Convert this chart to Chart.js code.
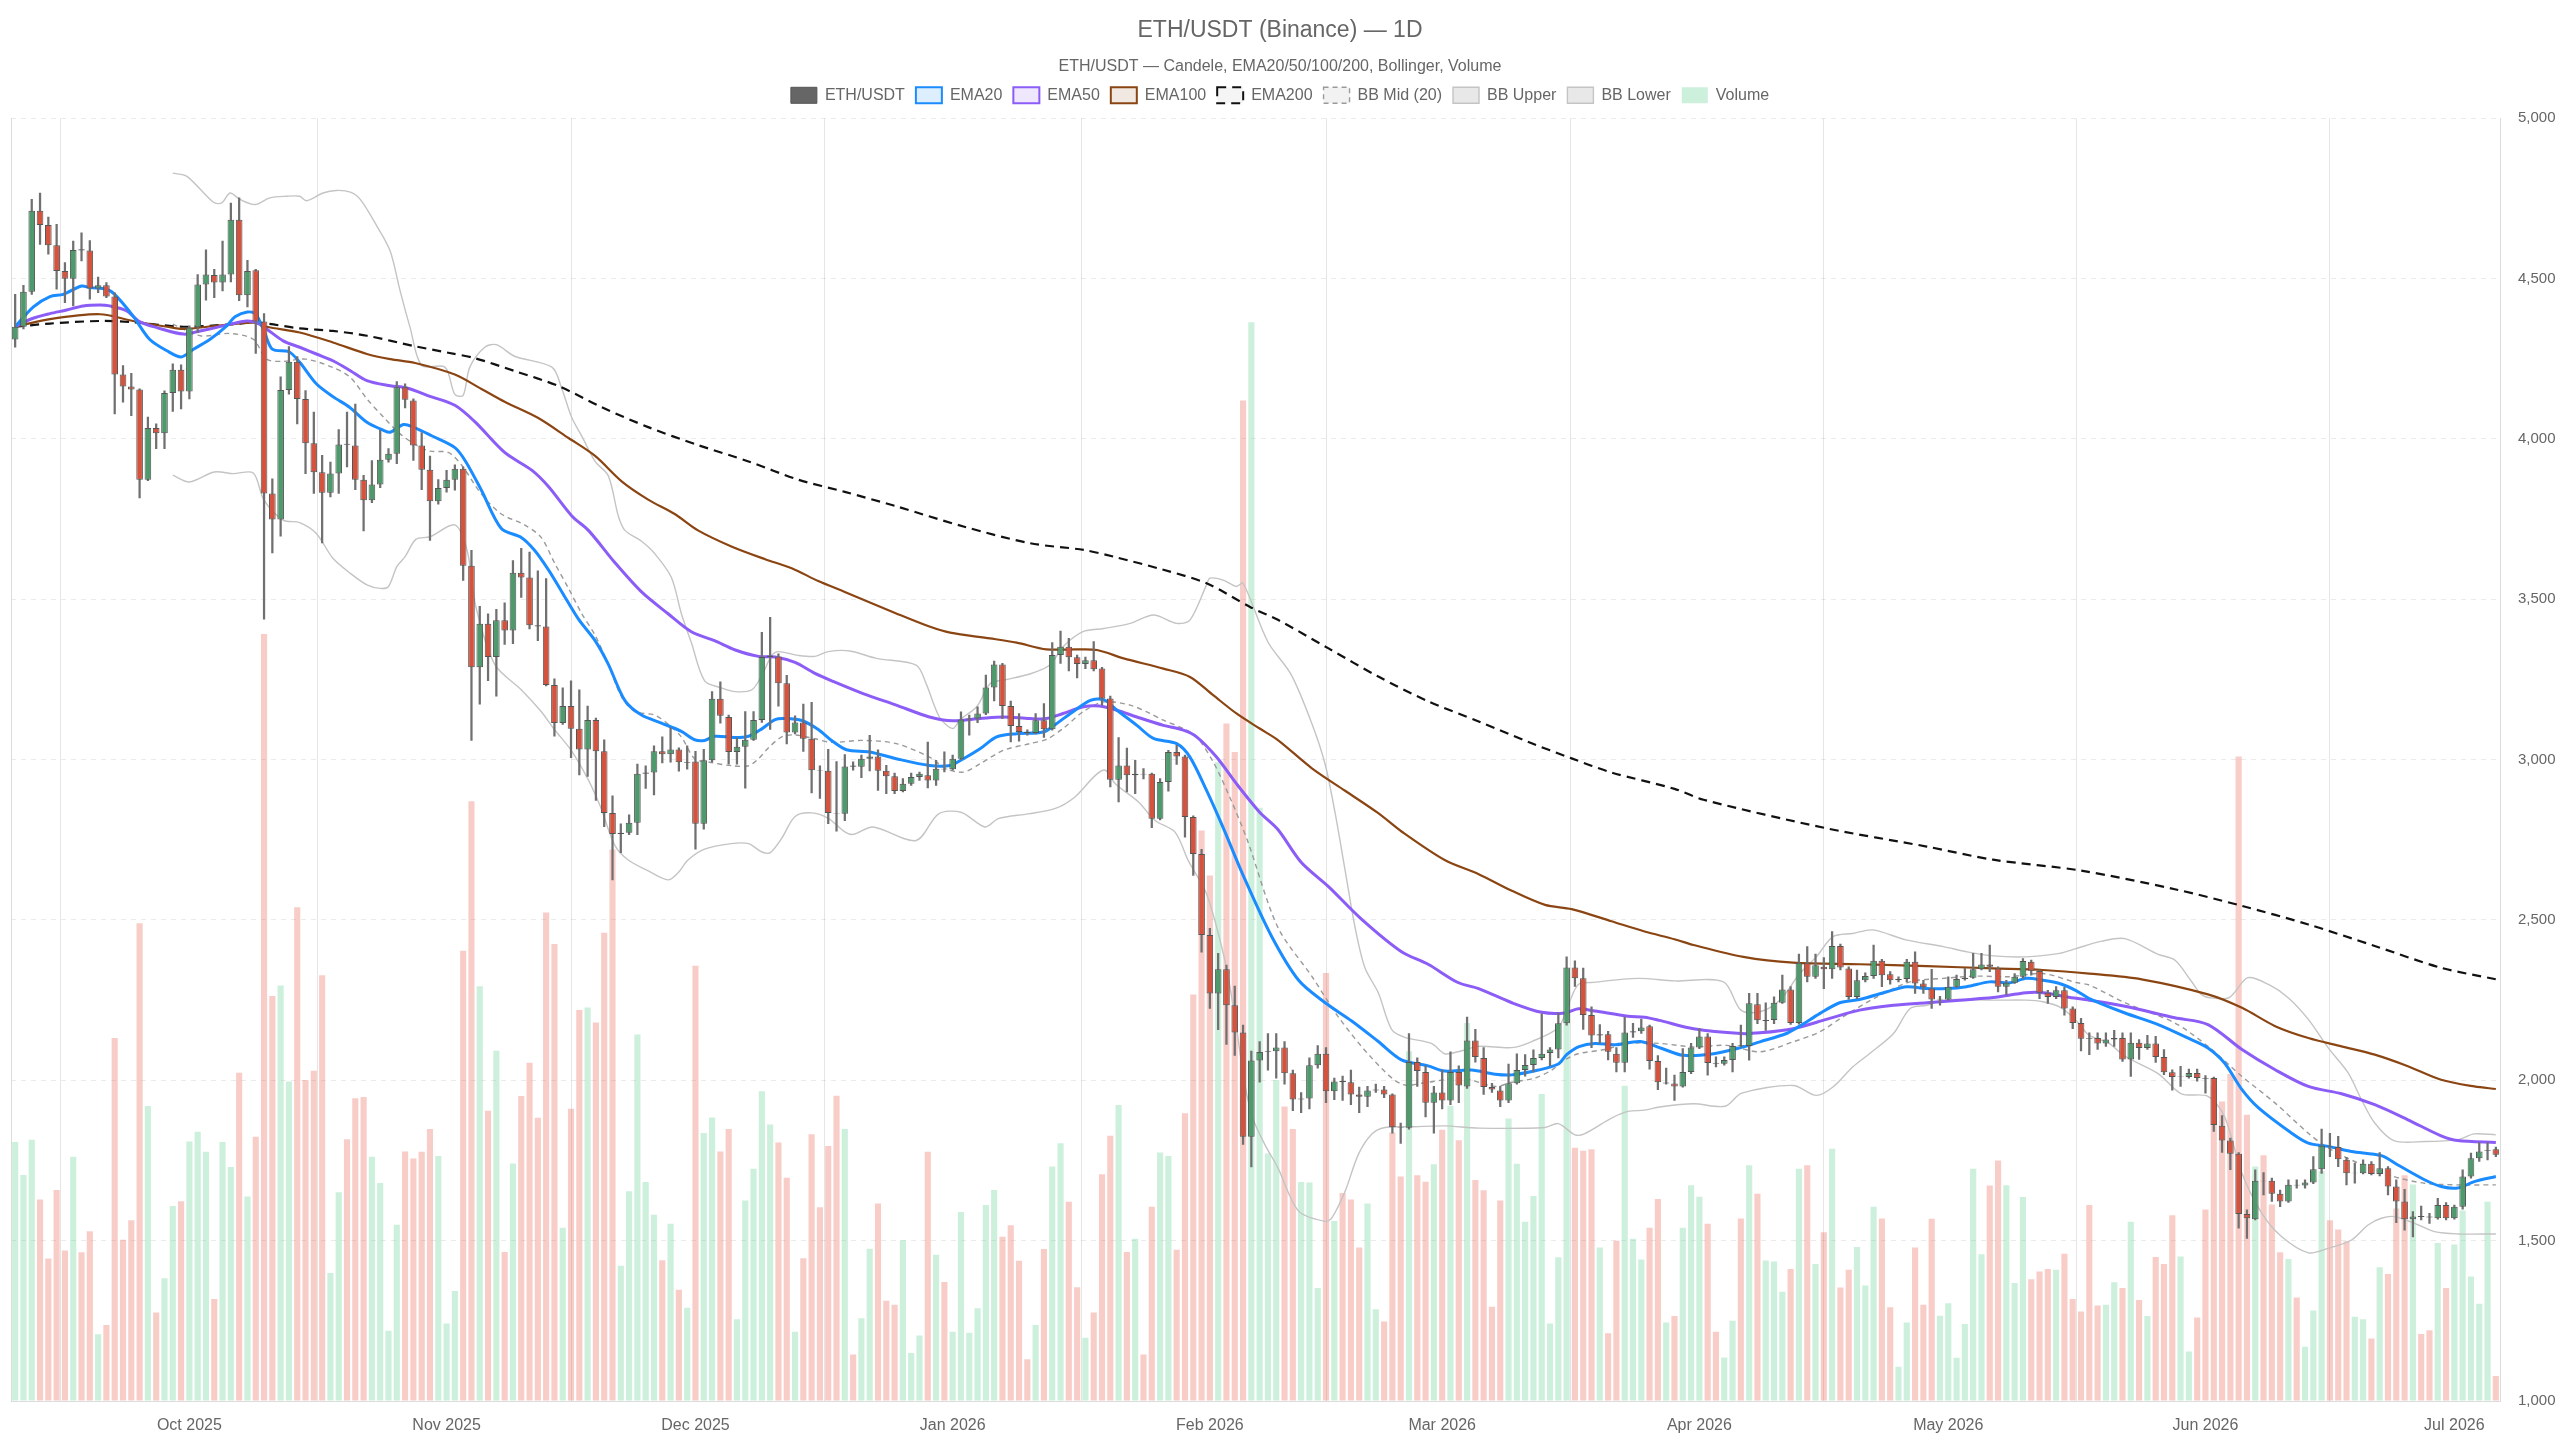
<!DOCTYPE html>
<html>
<head>
<meta charset="utf-8">
<title>ETH/USDT (Binance) — 1D</title>
<script src="https://cdn.jsdelivr.net/npm/chart.js@4.4.1/dist/chart.umd.min.js"></script>
<style>
  html, body { margin: 0; padding: 0; background: #fff; }
  #wrap { width: 2560px; height: 1440px; }
  canvas { display: block; }
</style>
</head>
<body>
<div id="wrap"><canvas id="chart" width="2560" height="1440"></canvas></div>
<script>
// ===========================
// DATA (daily candles, day 0 = 10 Sep 2025)
// ===========================

// month ticks on the x axis (day index of the 1st of each month)
const MONTH_TICK_DAYS = [21, 52, 82, 113, 144, 172, 203, 233, 264, 294];
const MONTH_LABELS = ['Oct 2025', 'Nov 2025', 'Dec 2025', 'Jan 2026', 'Feb 2026',
                      'Mar 2026', 'Apr 2026', 'May 2026', 'Jun 2026', 'Jul 2026'];

const OPEN = [
  4310, 4350, 4459, 4712, 4667, 4604, 4524, 4500, 4592, 4588,
  4469, 4479, 4444, 4201, 4164, 4154, 3873, 4034, 4018, 4143,
  4216, 4148, 4348, 4482, 4511, 4488, 4513, 4684, 4448, 4526,
  4366, 3830, 3749, 4153, 4241, 4125, 3987, 3896, 3832, 3892,
  3985, 3980, 3873, 3809, 3858, 3935, 3954, 4161, 4120, 3980,
  3904, 3806, 3847, 3873, 3907, 3605, 3288, 3424, 3320, 3435,
  3403, 3583, 3568, 3419, 3415, 3233, 3114, 3167, 3096, 3032,
  3124, 3026, 2834, 2768, 2772, 2803, 2956, 2960, 3026, 3017,
  3032, 2990, 2994, 2800, 2998, 3190, 3133, 3024, 3040, 3062,
  3124, 3320, 3322, 3238, 3085, 3116, 3065, 2967, 2965, 2834,
  2831, 2982, 2978, 3003, 3010, 2965, 2948, 2902, 2925, 2946,
  2951, 2935, 2972, 2970, 3003, 3125, 3128, 3144, 3225, 3297,
  3167, 3105, 3086, 3083, 3123, 3095, 3326, 3352, 3319, 3298,
  3310, 3284, 3191, 2937, 2982, 2951, 2956, 2956, 2816, 2930,
  3024, 3010, 2821, 2706, 2453, 2271, 2346, 2234, 2149, 1824,
  2062, 2088, 2091, 2102, 2022, 1940, 1943, 2047, 2083, 1966,
  1999, 1994, 1956, 1949, 1968, 1971, 1956, 1854, 1852, 2057,
  2026, 1930, 1962, 1937, 2026, 1981, 2124, 2070, 1979, 1968,
  1937, 1991, 2032, 2048, 2070, 2085, 2096, 2178, 2352, 2318,
  2204, 2140, 2144, 2083, 2055, 2149, 2153, 2169, 2060, 1990,
  1990, 1981, 2026, 2102, 2137, 2054, 2052, 2063, 2109, 2107,
  2237, 2185, 2188, 2242, 2283, 2179, 2367, 2323, 2354, 2346,
  2419, 2349, 2260, 2312, 2325, 2373, 2331, 2312, 2316, 2370,
  2302, 2286, 2252, 2252, 2292, 2316, 2320, 2346, 2361, 2349,
  2292, 2304, 2323, 2370, 2341, 2273, 2260, 2281, 2224, 2179,
  2132, 2132, 2115, 2127, 2132, 2065, 2117, 2101, 2115, 2073,
  2025, 2010, 2010, 2023, 2007, 2007, 1858, 1812, 1771, 1583,
  1567, 1687, 1687, 1646, 1622, 1674, 1672, 1681, 1723, 1796,
  1792, 1752, 1710, 1710, 1740, 1708, 1726, 1669, 1622, 1567,
  1577, 1575, 1570, 1611, 1570, 1606, 1700, 1757, 1780, 1785
];
const HIGH = [
  4451, 4479, 4747, 4767, 4692, 4669, 4550, 4617, 4643, 4619,
  4505, 4488, 4456, 4229, 4205, 4156, 4068, 4047, 4150, 4234,
  4231, 4353, 4513, 4590, 4529, 4617, 4736, 4752, 4557, 4529,
  4391, 3876, 4194, 4288, 4257, 4151, 4084, 3949, 3928, 4029,
  4084, 4109, 3887, 3933, 4027, 3970, 4179, 4172, 4125, 4020,
  3947, 3873, 3902, 3919, 3913, 3653, 3478, 3455, 3469, 3489,
  3621, 3659, 3647, 3589, 3565, 3252, 3224, 3246, 3218, 3167,
  3130, 3062, 2887, 2800, 2828, 2986, 2981, 3043, 3071, 3099,
  3037, 3043, 3026, 3032, 3212, 3243, 3139, 3069, 3150, 3150,
  3397, 3444, 3330, 3263, 3137, 3173, 3179, 2981, 3032, 2994,
  3016, 2993, 3014, 3076, 3031, 2982, 2958, 2941, 2958, 2961,
  3055, 2998, 3024, 3014, 3149, 3139, 3165, 3264, 3307, 3300,
  3183, 3144, 3093, 3144, 3175, 3365, 3401, 3378, 3326, 3320,
  3368, 3288, 3198, 3069, 3036, 2998, 2972, 2958, 2941, 3029,
  3045, 3014, 2825, 2720, 2474, 2396, 2359, 2294, 2172, 2091,
  2121, 2146, 2146, 2121, 2032, 1962, 2070, 2108, 2102, 2007,
  2013, 2032, 1979, 1981, 1988, 1981, 1958, 1867, 2146, 2070,
  2045, 1981, 2032, 2089, 2045, 2197, 2159, 2102, 1991, 1981,
  2051, 2083, 2080, 2095, 2207, 2102, 2210, 2385, 2373, 2350,
  2229, 2174, 2153, 2102, 2197, 2178, 2191, 2172, 2077, 2038,
  2016, 2099, 2115, 2161, 2146, 2073, 2073, 2115, 2172, 2271,
  2271, 2242, 2260, 2328, 2292, 2394, 2417, 2394, 2383, 2464,
  2425, 2354, 2344, 2335, 2422, 2377, 2339, 2323, 2377, 2401,
  2312, 2346, 2262, 2323, 2328, 2349, 2396, 2396, 2422, 2354,
  2312, 2333, 2380, 2375, 2344, 2281, 2292, 2290, 2229, 2193,
  2148, 2148, 2148, 2156, 2148, 2148, 2127, 2140, 2137, 2096,
  2033, 2044, 2035, 2035, 2015, 2010, 1890, 1820, 1775, 1596,
  1721, 1712, 1695, 1658, 1690, 1690, 1690, 1762, 1848, 1835,
  1825, 1760, 1742, 1752, 1747, 1775, 1731, 1690, 1660, 1591,
  1608, 1585, 1632, 1619, 1611, 1721, 1773, 1806, 1806, 1792
];
const LOW = [
  4286, 4343, 4451, 4607, 4576, 4467, 4425, 4415, 4555, 4436,
  4456, 4441, 4078, 4115, 4073, 3816, 3870, 3970, 3970, 4086,
  4094, 4125, 4332, 4433, 4441, 4462, 4490, 4431, 4412, 4267,
  3438, 3645, 3697, 4140, 4047, 3892, 3830, 3676, 3819, 3830,
  3913, 3842, 3713, 3801, 3848, 3928, 3923, 4097, 3933, 3842,
  3684, 3797, 3834, 3840, 3559, 3060, 3173, 3246, 3198, 3359,
  3362, 3506, 3408, 3371, 3230, 3073, 3110, 3006, 2952, 2948,
  2873, 2791, 2625, 2710, 2766, 2766, 2910, 2890, 2990, 2992,
  2964, 2970, 2721, 2783, 2992, 3114, 2986, 2986, 2911, 3060,
  3116, 3094, 3167, 3049, 3080, 3026, 2896, 2879, 2800, 2777,
  2810, 2967, 2944, 2965, 2904, 2894, 2894, 2899, 2920, 2935,
  2912, 2920, 2962, 2967, 3000, 3076, 3115, 3140, 3183, 3128,
  3055, 3058, 3076, 3080, 3069, 3092, 3300, 3277, 3255, 3284,
  3277, 3170, 2915, 2868, 2899, 2894, 2940, 2788, 2812, 2902,
  2985, 2758, 2639, 2400, 2224, 2158, 2112, 2078, 1800, 1730,
  1994, 2032, 2007, 1988, 1905, 1899, 1911, 2038, 1930, 1940,
  1937, 1924, 1899, 1918, 1962, 1946, 1835, 1803, 1848, 1981,
  1886, 1835, 1911, 1924, 1930, 1975, 2057, 1956, 1962, 1918,
  1930, 1988, 2013, 2026, 2064, 2045, 2070, 2172, 2293, 2159,
  2102, 2115, 2064, 2026, 2026, 2134, 2146, 2035, 1971, 1988,
  1937, 1979, 2021, 2099, 2016, 2042, 2047, 2026, 2104, 2063,
  2177, 2156, 2177, 2240, 2174, 2175, 2307, 2318, 2286, 2318,
  2344, 2252, 2255, 2307, 2318, 2292, 2300, 2307, 2307, 2271,
  2271, 2224, 2234, 2250, 2290, 2312, 2318, 2344, 2339, 2276,
  2266, 2302, 2318, 2328, 2255, 2240, 2255, 2203, 2161, 2092,
  2080, 2096, 2106, 2106, 2059, 2012, 2065, 2096, 2056, 2018,
  1969, 1981, 2007, 1997, 1960, 1841, 1775, 1721, 1539, 1507,
  1565, 1643, 1622, 1606, 1619, 1664, 1664, 1678, 1710, 1762,
  1731, 1674, 1679, 1708, 1705, 1702, 1643, 1556, 1533, 1512,
  1565, 1554, 1567, 1565, 1567, 1598, 1695, 1747, 1752, 1762
];
const CLOSE = [
  4350, 4459, 4712, 4667, 4604, 4524, 4500, 4589, 4588, 4469,
  4479, 4444, 4201, 4164, 4154, 3873, 4034, 4018, 4143, 4216,
  4148, 4348, 4482, 4513, 4488, 4513, 4684, 4448, 4524, 4366,
  3830, 3749, 4153, 4241, 4125, 3987, 3896, 3832, 3892, 3983,
  3982, 3873, 3809, 3858, 3935, 3954, 4161, 4122, 3980, 3904,
  3806, 3847, 3873, 3907, 3605, 3288, 3424, 3320, 3435, 3403,
  3583, 3568, 3419, 3415, 3233, 3114, 3167, 3096, 3032, 3124,
  3026, 2834, 2768, 2772, 2803, 2956, 2960, 3026, 3017, 3032,
  2992, 2993, 2800, 2998, 3190, 3137, 3024, 3040, 3062, 3124,
  3320, 3325, 3238, 3085, 3116, 3065, 2967, 2965, 2834, 2832,
  2979, 2978, 3003, 3010, 2965, 2948, 2902, 2925, 2946, 2956,
  2935, 2972, 2969, 3003, 3125, 3128, 3144, 3225, 3297, 3167,
  3105, 3086, 3083, 3123, 3095, 3326, 3352, 3319, 3298, 3310,
  3282, 3191, 2937, 2982, 2951, 2956, 2954, 2816, 2930, 3024,
  3010, 2821, 2706, 2453, 2271, 2346, 2234, 2149, 1824, 2062,
  2088, 2091, 2102, 2022, 1940, 1943, 2047, 2083, 1966, 1996,
  1994, 1956, 1949, 1968, 1971, 1956, 1854, 1852, 2057, 2029,
  1930, 1962, 1937, 2026, 1984, 2124, 2073, 1979, 1971, 1937,
  1991, 2032, 2048, 2070, 2083, 2096, 2178, 2352, 2318, 2204,
  2140, 2144, 2089, 2055, 2149, 2153, 2165, 2060, 1994, 1993,
  1981, 2026, 2102, 2137, 2054, 2052, 2063, 2107, 2106, 2240,
  2187, 2188, 2242, 2283, 2179, 2367, 2323, 2359, 2346, 2419,
  2352, 2260, 2312, 2325, 2373, 2328, 2312, 2316, 2370, 2302,
  2290, 2252, 2254, 2292, 2316, 2320, 2346, 2361, 2354, 2292,
  2304, 2323, 2372, 2342, 2273, 2260, 2281, 2224, 2179, 2130,
  2130, 2115, 2127, 2132, 2065, 2117, 2101, 2115, 2073, 2025,
  2010, 2012, 2023, 2007, 2005, 1861, 1812, 1771, 1583, 1570,
  1687, 1685, 1646, 1622, 1674, 1672, 1681, 1723, 1796, 1794,
  1754, 1710, 1712, 1740, 1708, 1726, 1669, 1622, 1567, 1575,
  1574, 1572, 1611, 1570, 1606, 1700, 1757, 1778, 1783, 1768
];
// volume, thousand ETH
const VOLUME = [
  808, 705, 815, 628, 444, 658, 469, 762, 464, 529,
  208, 237, 1132, 503, 564, 1490, 920, 276, 383, 608,
  623, 809, 840, 777, 318, 808, 730, 1024, 638, 824,
  2392, 1263, 1296, 996, 1540, 1001, 1030, 1328, 399, 651,
  816, 944, 948, 762, 680, 219, 550, 778, 756, 777,
  848, 764, 242, 343, 1404, 1870, 1293, 905, 1092, 465,
  741, 951, 1055, 883, 1523, 1425, 540, 911, 1219, 1227,
  1180, 1460, 1720, 422, 654, 1143, 683, 581, 439, 553,
  347, 291, 1357, 836, 884, 778, 848, 255, 625, 724,
  966, 862, 806, 696, 216, 445, 832, 604, 795, 952,
  848, 145, 258, 475, 616, 313, 300, 501, 150, 204,
  777, 456, 371, 216, 589, 213, 289, 611, 658, 512,
  548, 437, 130, 237, 474, 731, 804, 621, 355, 197,
  276, 707, 827, 923, 465, 506, 145, 606, 775, 764,
  472, 897, 1268, 1779, 1639, 1993, 2113, 2024, 3120, 3364,
  1850, 772, 1001, 918, 848, 683, 681, 352, 1335, 561,
  649, 628, 479, 616, 286, 248, 837, 700, 1091, 704,
  684, 738, 846, 921, 813, 1179, 689, 657, 294, 625,
  881, 740, 559, 639, 957, 242, 448, 1180, 790, 780,
  785, 479, 211, 500, 983, 506, 441, 540, 630, 245,
  265, 540, 673, 637, 553, 216, 136, 250, 569, 735,
  646, 438, 435, 341, 412, 724, 735, 427, 526, 787,
  354, 409, 480, 360, 606, 569, 292, 107, 245, 479,
  300, 568, 266, 305, 135, 240, 724, 458, 672, 750,
  673, 368, 636, 380, 404, 412, 409, 459, 318, 279,
  611, 298, 300, 370, 352, 559, 315, 265, 449, 427,
  579, 451, 154, 260, 597, 983, 934, 1020, 2010, 893,
  731, 766, 613, 464, 443, 323, 169, 282, 717, 564,
  535, 498, 263, 255, 195, 417, 396, 600, 704, 675,
  209, 221, 493, 352, 488, 594, 388, 303, 621, 78
];

// indicator lines at the given day positions
const EMA20_X = [0, 2.2, 4.2, 5.8, 8, 9, 11, 12, 14.2, 16.2, 18.3, 20, 21.5, 23.5, 25.5, 26.5, 28, 29, 30, 31,
  33, 34.3, 36.3, 38.3, 40.3, 42.4, 44.4, 45.2, 46.8, 48, 50.2, 53, 54.3, 56.2, 58.6, 61, 62.6, 64.3, 65.9, 67.9,
  69.9, 71.5, 73.5, 75.5, 77.9, 80.3, 81.9, 83.1, 84.3, 86.8, 88.4, 90, 91.6, 92.8, 94.8, 96.8, 98.4, 100.2, 103, 106.2,
  110.2, 112.7, 114.3, 116.3, 118.3, 120.7, 123.9, 125.5, 127.2, 129.6, 131.2, 132.8, 135.2, 137.2, 140, 141.6, 143.6, 145.6, 148, 151.4,
  154.7, 157.9, 161.1, 164.3, 167.1, 170.3, 172.3, 175.5, 178.4, 180.4, 183.6, 186, 187, 188.5, 190.4, 192.7, 195.9, 198.4, 201, 204.3,
  208, 210.3, 213.5, 215.1, 217.5, 219.9, 222.3, 225.6, 228, 230.4, 232.8, 235.2, 238, 240.4, 242.4, 244.4, 246.4, 248.4, 250, 254.3,
  258.3, 262.3, 264.3, 266.3, 268.4, 270.4, 274.4, 276.4, 278.8, 281.6, 285.2, 287.2, 290.4, 292.4, 294.4, 296.4, 299];
const EMA20 = [4350, 4412, 4444, 4451, 4477, 4472, 4467, 4451, 4384, 4311, 4275, 4256, 4280, 4311, 4353, 4381, 4396, 4389, 4337, 4280,
  4272, 4239, 4172, 4132, 4099, 4052, 4027, 4021, 4045, 4037, 4010, 3973, 3930, 3840, 3721, 3693, 3653, 3591, 3523, 3438,
  3371, 3297, 3184, 3139, 3114, 3088, 3062, 3060, 3073, 3069, 3073, 3096, 3125, 3128, 3122, 3094, 3060, 3031, 3024, 3003,
  2982, 2982, 3003, 3034, 3071, 3081, 3086, 3112, 3144, 3185, 3187, 3154, 3107, 3066, 3050, 3008, 2904, 2788, 2640, 2451,
  2312, 2242, 2185, 2121, 2064, 2045, 2029, 2032, 2019, 2017, 2032, 2051, 2080, 2105, 2115, 2111, 2121, 2100, 2078, 2081,
  2102, 2120, 2146, 2169, 2208, 2242, 2252, 2276, 2292, 2286, 2286, 2292, 2307, 2304, 2318, 2312, 2302, 2280, 2255, 2210,
  2174, 2127, 2101, 2054, 1971, 1914, 1835, 1804, 1794, 1778, 1765, 1736, 1690, 1669, 1664, 1684, 1700];

const EMA50_X = [0, 2, 4.2, 6.2, 8.2, 10.2, 11.4, 13.4, 15, 17, 20.3, 22.3, 24.3, 26.3, 27.9, 29.1, 30.3, 32.3, 34.3, 36.3,
  38.3, 40.4, 42.4, 45.2, 47.2, 50, 53, 55.4, 59, 62.3, 64.3, 67.1, 69.1, 72.3, 75.5, 78.7, 81.5, 84.3, 86.8, 89.6,
  91.6, 94, 96.4, 98.5, 102.2, 106.2, 110.2, 113, 116.3, 119.1, 122.3, 124.3, 126.3, 128.8, 130.7, 132.8, 135.2, 138.4, 140.8, 142.4,
  144.8, 147.2, 150, 152.2, 155, 158.3, 162.3, 167.1, 170.3, 173.9, 176.4, 180.4, 184, 186.8, 188.4, 190.4, 194.4, 196.4, 198.2, 202.3,
  208, 210.3, 214.3, 218.3, 222.3, 226.4, 230.4, 234.4, 238.4, 242.4, 244.4, 247.3, 250, 254.3, 260.3, 264.3, 268.4, 272.4, 276.4, 280.4,
  284.4, 288.4, 292.4, 294.4, 299];
const EMA50 = [4350, 4375, 4391, 4402, 4415, 4418, 4415, 4400, 4366, 4348, 4327, 4337, 4348, 4360, 4368, 4363, 4343, 4306, 4286, 4265,
  4244, 4213, 4182, 4166, 4159, 4133, 4105, 4054, 3958, 3902, 3851, 3760, 3715, 3614, 3523, 3455, 3399, 3371, 3342, 3322,
  3320, 3303, 3269, 3245, 3206, 3170, 3133, 3121, 3128, 3133, 3128, 3128, 3144, 3165, 3167, 3154, 3133, 3107, 3092, 3071,
  3008, 2925, 2836, 2782, 2680, 2604, 2502, 2401, 2362, 2305, 2286, 2242, 2212, 2210, 2223, 2216, 2200, 2197, 2187, 2161,
  2146, 2148, 2161, 2190, 2219, 2234, 2242, 2250, 2258, 2273, 2273, 2260, 2250, 2231, 2195, 2174, 2096, 2033, 1981, 1958,
  1924, 1877, 1827, 1812, 1806];

const EMA100_X = [0, 4.2, 10.2, 14.2, 18.3, 20.3, 24.3, 28.7, 30.3, 34.3, 38.3, 42.4, 45.2, 48.2, 53, 56.2, 59, 63, 66.7, 69.9,
  73.1, 76.3, 79.5, 82.3, 86.4, 90.4, 93.6, 96.8, 100, 106.2, 110.2, 112.7, 117.5, 120.7, 124.3, 127.9, 130.4, 133.6, 138.4, 141.6,
  144.4, 147.2, 150, 152.2, 156.3, 160.3, 164.3, 167.1, 172.3, 176.4, 180.4, 184.4, 187.6, 192.4, 196.4, 200, 202.3, 208.3, 214.3, 222.3,
  230.4, 238.4, 244.4, 250, 256.3, 264.3, 268.4, 272.4, 276.4, 280.4, 284.4, 288.4, 292.4, 296.4, 299];
const EMA100 = [4350, 4374, 4389, 4368, 4350, 4343, 4353, 4363, 4350, 4332, 4301, 4265, 4249, 4237, 4201, 4156, 4116, 4066, 4003, 3947,
  3868, 3811, 3766, 3715, 3664, 3625, 3597, 3557, 3523, 3456, 3415, 3396, 3378, 3365, 3344, 3344, 3342, 3316, 3284, 3258,
  3201, 3144, 3097, 3061, 2973, 2903, 2833, 2776, 2687, 2643, 2591, 2547, 2534, 2496, 2464, 2440, 2422, 2385, 2367, 2362,
  2356, 2349, 2344, 2333, 2315, 2268, 2226, 2169, 2132, 2106, 2080, 2044, 2002, 1981, 1973];

const EMA200_X = [0, 4.2, 10.2, 14.2, 20.3, 26.3, 29.1, 34.3, 38.3, 42.4, 48.2, 52.2, 55.4, 60.2, 65.5, 70.7, 76.3, 82.3, 88.4, 94.4,
  100, 106.2, 114.3, 122.3, 128.8, 132.4, 138.4, 143.6, 149, 152.2, 158.3, 164.3, 170.3, 176.4, 182.4, 187.6, 192.4, 200, 203.5, 218.3,
  230.4, 238.4, 249, 260.3, 268.4, 276.4, 284.4, 292.4, 299];
const EMA200 = [4350, 4360, 4368, 4364, 4350, 4358, 4363, 4345, 4337, 4322, 4289, 4269, 4252, 4212, 4165, 4099, 4037, 3981, 3930, 3873,
  3835, 3790, 3727, 3675, 3654, 3633, 3592, 3550, 3474, 3436, 3347, 3259, 3182, 3119, 3055, 3004, 2960, 2909, 2875, 2786,
  2729, 2688, 2654, 2596, 2544, 2486, 2419, 2351, 2315];

const BB_MID_X = [19, 22.3, 25.9, 28.7, 30.3, 32.3, 35, 38.3, 40.4, 42.4, 44.4, 46.4, 48.4, 50, 52.2, 53.8, 56.2, 58.6, 61.4, 63.4,
  65, 66.7, 68.3, 69.9, 71.5, 73.1, 74.7, 77.1, 78.7, 80.3, 81.9, 83.7, 86.4, 88.4, 89.6, 90.8, 92.4, 94, 96.4, 98.4,
  102.2, 106.2, 110.2, 112.2, 114.3, 116.3, 119.1, 122.3, 124.3, 126.3, 128.7, 131.2, 134.4, 136.8, 138.4, 140.8, 142.4, 144.4, 146.4, 148.5,
  152.2, 156.3, 159.5, 163.5, 167.1, 170.3, 174.3, 178.4, 180.4, 183.2, 185.2, 186.8, 188.4, 191.6, 194.4, 198.2, 202.3, 206.3, 210.3, 214.3,
  217.5, 220.3, 224.4, 228.4, 232.4, 236.4, 240.4, 244.4, 248.4, 250, 254.3, 260.3, 264.3, 268.4, 272.4, 276.4, 278.8, 282.4, 286.4, 290.4,
  294.4, 299];
const BB_MID = [4358, 4322, 4329, 4311, 4249, 4242, 4249, 4223, 4192, 4125, 4068, 4016, 3980, 3962, 3958, 3919, 3828, 3766, 3732, 3693,
  3614, 3534, 3455, 3388, 3297, 3195, 3150, 3139, 3111, 3071, 3003, 2992, 2981, 2981, 3003, 3037, 3071, 3077, 3065, 3054,
  3060, 3050, 3008, 2972, 2961, 2987, 3029, 3050, 3063, 3097, 3149, 3180, 3170, 3144, 3123, 3097, 3071, 2993, 2883, 2750,
  2477, 2324, 2197, 2070, 1988, 1994, 2007, 1981, 1994, 2007, 2032, 2064, 2083, 2096, 2115, 2115, 2104, 2109, 2089, 2120,
  2151, 2198, 2260, 2307, 2318, 2325, 2323, 2333, 2305, 2297, 2242, 2179, 2106, 2012, 1929, 1835, 1789, 1742, 1702, 1679,
  1674, 1674];

const BB_UP_X = [19, 20.7, 23.9, 24.9, 25.9, 27.1, 28.9, 30.7, 32.7, 34.3, 35.1, 37.1, 38.7, 40.4, 41.6, 43.6, 45.2, 46.4, 47.6, 49,
  51.8, 53, 54, 54.8, 56.6, 58, 60.2, 64.7, 65.9, 67.1, 68.3, 69.9, 71.5, 72.7, 73.5, 75.5, 77.1, 79.1, 80.3, 81.5,
  83.1, 85.1, 86.8, 88.8, 90, 91.2, 92, 94.4, 96.4, 98, 100.6, 103.8, 108.6, 109.8, 111.4, 113, 113.9, 115.9, 117.5, 119.1,
  122.3, 124.7, 126.3, 128.7, 131.2, 134.4, 137.2, 140, 141.6, 143.6, 144, 145.6, 147.2, 148, 151, 153.8, 156.3, 157.9, 159.1, 160.3,
  161.5, 162.7, 164.3, 165.9, 167.5, 170.7, 172.3, 173.9, 176.4, 180.4, 182.8, 186, 187.2, 188.4, 190, 195.6, 200, 205.9, 208, 210.3,
  212.7, 215.1, 217.1, 219.1, 221.5, 223.9, 227.9, 232.4, 235.2, 238.4, 242.4, 246.4, 248.3, 251.5, 254.3, 258.3, 260.3, 262.3, 263.5, 264.7,
  266.9, 269.1, 271.6, 274, 276.4, 278.8, 281.2, 282.8, 284.4, 286.7, 290.4, 294.4, 296.4, 299];
const BB_UP = [4829, 4819, 4738, 4736, 4767, 4747, 4731, 4752, 4757, 4757, 4743, 4767, 4775, 4770, 4747, 4664, 4586, 4462, 4348, 4229,
  4224, 4139, 4136, 4224, 4286, 4294, 4258, 4224, 4156, 4066, 4009, 3930, 3885, 3760, 3715, 3681, 3642, 3568, 3455, 3365,
  3246, 3224, 3212, 3218, 3263, 3325, 3337, 3325, 3322, 3337, 3339, 3316, 3295, 3237, 3133, 3097, 3125, 3165, 3237, 3248,
  3267, 3295, 3352, 3399, 3409, 3425, 3451, 3425, 3435, 3545, 3566, 3560, 3540, 3550, 3367, 3265, 3112, 2985, 2833, 2655,
  2477, 2350, 2273, 2159, 2134, 2115, 2083, 2089, 2106, 2102, 2121, 2165, 2235, 2299, 2305, 2318, 2310, 2307, 2219, 2214,
  2250, 2333, 2385, 2448, 2458, 2469, 2438, 2417, 2401, 2388, 2385, 2396, 2410, 2434, 2442, 2393, 2375, 2309, 2268, 2257,
  2259, 2320, 2299, 2257, 2190, 2101, 2023, 1940, 1867, 1812, 1809, 1815, 1833, 1830];

const BB_LOW_X = [19, 21, 24, 26.3, 28.7, 30, 32.3, 34.3, 36.3, 38.3, 40.4, 42.4, 44, 45, 46, 47, 48.3, 50, 53, 54.5,
  55.5, 57.8, 61, 63.4, 65, 67.1, 69.1, 70.5, 72.3, 73.9, 76.3, 78.7, 79.9, 81.1, 83.1, 86.3, 88.4, 90, 91, 92.4,
  94, 96, 98, 100, 101, 103.4, 108.6, 111.3, 114, 116.9, 118.5, 122.1, 125.3, 127.7, 130.2, 131.4, 132.6, 135.4, 137.4, 139.8,
  141.4, 143.6, 145.8, 147, 148.2, 149.2, 150.6, 152.2, 154.7, 157.9, 158.7, 160.3, 161.9, 163.5, 165.1, 168.3, 172.3, 176.4, 184.4, 186,
  188, 189.2, 192.4, 194.4, 196.4, 198.2, 202.3, 206.1, 208.1, 214.3, 217.1, 219.1, 221.5, 223.5, 226.4, 228.4, 230.4, 232.4, 234.4, 238.4,
  242.4, 244.4, 246.4, 248.3, 250, 252.3, 254.3, 258.3, 261.1, 264.3, 266.3, 268.4, 270.8, 273.2, 276.4, 278.8, 281.6, 283.6, 285.2, 286.8,
  289.2, 291.6, 294.4, 299];
const BB_LOW = [3887, 3866, 3897, 3892, 3894, 3809, 3747, 3739, 3705, 3628, 3581, 3545, 3534, 3540, 3602, 3633, 3687, 3695, 3732, 3650,
  3480, 3297, 3218, 3150, 3094, 3026, 2936, 2856, 2732, 2687, 2653, 2625, 2647, 2687, 2721, 2738, 2738, 2712, 2710, 2755,
  2823, 2834, 2817, 2775, 2767, 2790, 2748, 2831, 2836, 2790, 2816, 2831, 2847, 2883, 2951, 2967, 2925, 2868, 2810, 2774,
  2685, 2581, 2375, 2200, 1990, 1880, 1801, 1727, 1592, 1560, 1571, 1654, 1769, 1832, 1853, 1855, 1858, 1851, 1853, 1865,
  1830, 1834, 1882, 1903, 1907, 1917, 1927, 1919, 1960, 1984, 1953, 1979, 2042, 2083, 2146, 2224, 2234, 2250, 2252, 2250,
  2250, 2245, 2229, 2190, 2140, 2117, 2075, 2021, 1958, 1950, 1887, 1710, 1585, 1512, 1462, 1476, 1502, 1549, 1570, 1575,
  1554, 1528, 1521, 1521];

// ===========================
// STYLE
// ===========================
Chart.defaults.font.family = "'Liberation Sans', Arial, Helvetica, sans-serif";
Chart.defaults.color = '#666';

const UP_BODY = '#4e9a6c';
const DOWN_BODY = '#d4533e';
const UP_VOL = 'rgba(85, 205, 138, 0.3)';
const DOWN_VOL = 'rgba(232, 88, 72, 0.3)';

const days = CLOSE.map((_, i) => i);
const isUp = days.map(i => CLOSE[i] >= OPEN[i]);

function pairs(xs, ys) {
    return xs.map((x, i) => ({ x: x, y: ys[i] }));
}

function lineSet(label, xs, ys, color, fillColor, width, dash, order) {
    return {
        type: 'line',
        label: label,
        data: pairs(xs, ys),
        yAxisID: 'y',
        borderColor: color,
        backgroundColor: fillColor,
        borderWidth: width,
        borderDash: dash,
        pointRadius: 0,
        pointHoverRadius: 0,
        fill: false,
        tension: 0.3,
        order: order
    };
}

// legend gets a little more room below it
const legendSpacer = {
    id: 'legendSpacer',
    beforeInit(chart) {
        const fit = chart.legend.fit;
        chart.legend.fit = function () {
            fit.bind(chart.legend)();
            this.height += 5;
        };
    }
};

const datasets = [
    {
        type: 'bar',
        label: 'ETH/USDT',
        data: days.map(i => ({ x: i, y: [OPEN[i], CLOSE[i]] })),
        yAxisID: 'y',
        backgroundColor: days.map(i => isUp[i] ? UP_BODY : DOWN_BODY),
        borderColor: '#555',
        borderWidth: 1,
        borderSkipped: false,
        grouped: false,
        barPercentage: 0.8,
        categoryPercentage: 1,
        order: 0
    },
    {
        type: 'bar',
        label: 'wick',
        data: days.map(i => ({ x: i, y: [LOW[i], HIGH[i]] })),
        yAxisID: 'y',
        backgroundColor: '#707070',
        borderWidth: 0,
        grouped: false,
        barThickness: 1.6,
        order: 1
    },
    lineSet('EMA20', EMA20_X, EMA20, '#1a8cff', 'rgba(26,140,255,0.15)', 3, [], 2),
    lineSet('EMA50', EMA50_X, EMA50, '#8b5cf6', 'rgba(139,92,246,0.15)', 3, [], 3),
    lineSet('EMA100', EMA100_X, EMA100, '#8b4513', 'rgba(139,69,19,0.12)', 2.2, [], 4),
    lineSet('EMA200', EMA200_X, EMA200, '#111111', 'rgba(0,0,0,0.04)', 2.2, [9, 6], 5),
    lineSet('BB Mid (20)', BB_MID_X, BB_MID, '#9a9a9a', 'rgba(150,150,150,0.12)', 1.4, [5, 4], 6),
    lineSet('BB Upper', BB_UP_X, BB_UP, '#c4c4c4', 'rgba(190,190,190,0.35)', 1.4, [], 7),
    lineSet('BB Lower', BB_LOW_X, BB_LOW, '#c4c4c4', 'rgba(190,190,190,0.35)', 1.4, [], 8),
    {
        type: 'bar',
        label: 'Volume',
        data: days.map(i => ({ x: i, y: VOLUME[i] })),
        yAxisID: 'yVol',
        backgroundColor: days.map(i => isUp[i] ? UP_VOL : DOWN_VOL),
        borderWidth: 0,
        grouped: false,
        barPercentage: 0.74,
        categoryPercentage: 1,
        order: 9
    }
];

new Chart(document.getElementById('chart').getContext('2d'), {
    type: 'bar',
    data: { datasets: datasets },
    plugins: [legendSpacer],
    options: {
        responsive: false,
        animation: false,
        devicePixelRatio: 1,
        layout: { padding: 0 },
        plugins: {
            title: {
                display: true,
                text: 'ETH/USDT (Binance) — 1D',
                font: { size: 23, weight: 'normal' },
                color: '#666',
                padding: { top: 17, bottom: 8 }
            },
            subtitle: {
                display: true,
                text: 'ETH/USDT — Candele, EMA20/50/100/200, Bollinger, Volume',
                font: { size: 16 },
                color: '#666',
                padding: { top: 4.5, bottom: 0 }
            },
            legend: {
                display: true,
                labels: {
                    font: { size: 16 },
                    boxWidth: 26,
                    boxHeight: 16,
                    padding: 11,
                    color: '#666',
                    generateLabels(chart) {
                        const items = Chart.defaults.plugins.legend.labels.generateLabels(chart);
                        return items.filter(it => it.text !== 'wick').map(it => {
                            if (it.text === 'ETH/USDT') {
                                it.fillStyle = '#666';
                                it.strokeStyle = '#555';
                                it.lineWidth = 1;
                            } else if (it.text === 'Volume') {
                                it.fillStyle = UP_VOL;
                                it.strokeStyle = 'rgba(0,0,0,0)';
                                it.lineWidth = 0;
                            } else {
                                it.lineWidth = Math.min(it.lineWidth, 2);
                            }
                            return it;
                        });
                    }
                }
            },
            tooltip: { enabled: false }
        },
        scales: {
            x: {
                type: 'linear',
                min: -0.5,
                max: 299.5,
                offset: false,
                afterBuildTicks: (scale) => {
                    scale.ticks = MONTH_TICK_DAYS.map(v => ({ value: v }));
                },
                afterFit: (scale) => { scale.height = 39; },
                ticks: {
                    autoSkip: false,
                    maxRotation: 0,
                    padding: 15,
                    font: { size: 16 },
                    color: '#666',
                    callback: (v) => MONTH_LABELS[MONTH_TICK_DAYS.indexOf(v)]
                },
                grid: { offset: true, drawTicks: false, color: 'rgba(0,0,0,0.1)' },
                border: { color: '#dcdcdc' }
            },
            y: {
                position: 'right',
                min: 1000,
                max: 5000,
                afterFit: (scale) => { scale.width = 60; },
                ticks: { stepSize: 500, padding: 18, font: { size: 15 }, color: '#666' },
                grid: { drawTicks: false, color: 'rgba(0,0,0,0.08)' },
                border: { color: '#dcdcdc', dash: [5, 5] }
            },
            yVol: {
                position: 'left',
                min: 0,
                max: 4000,
                afterFit: (scale) => { scale.width = 11; },
                ticks: { display: false },
                grid: { drawOnChartArea: false, drawTicks: false },
                border: { color: '#dcdcdc' }
            }
        }
    }
});
</script>
</body>
</html>
